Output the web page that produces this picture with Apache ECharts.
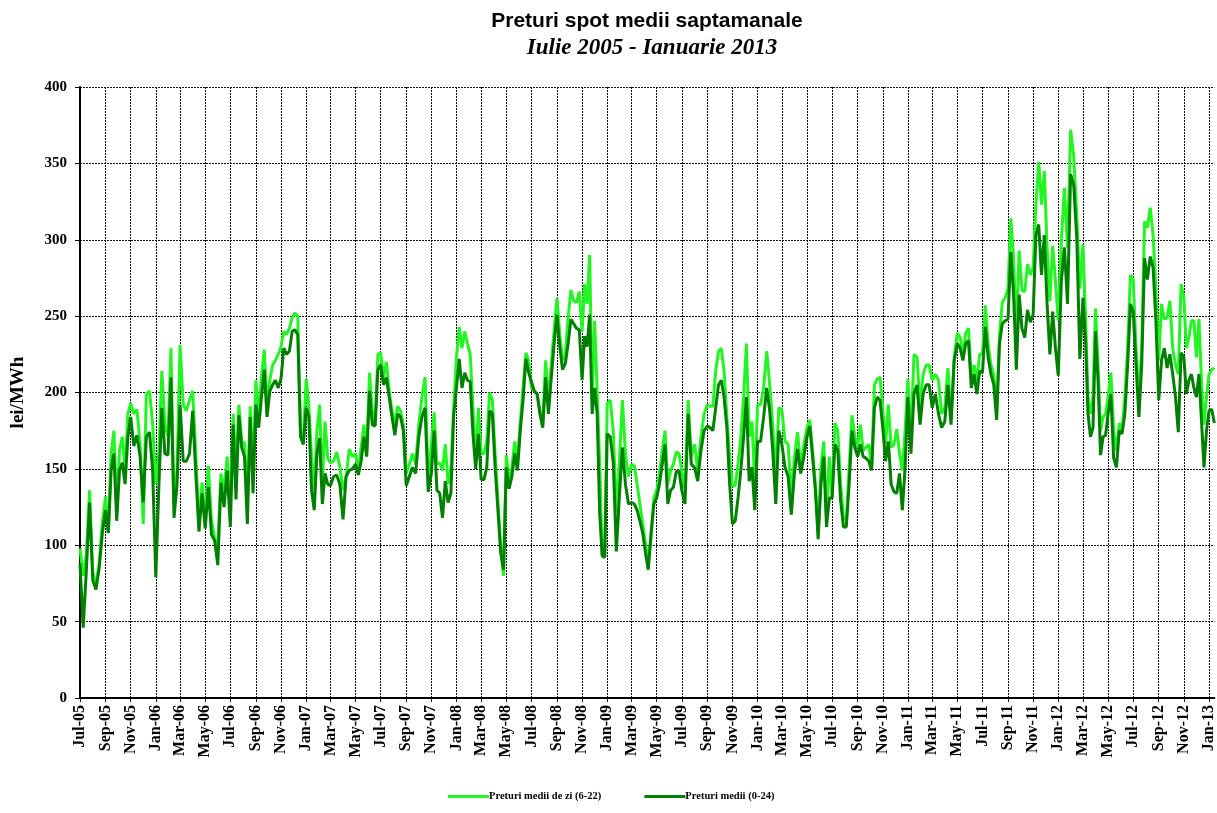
<!DOCTYPE html>
<html>
<head>
<meta charset="utf-8">
<script src="https://cdn.jsdelivr.net/npm/echarts@6/dist/echarts.min.js"></script>
<style>
html,body{margin:0;padding:0;background:#fff;}
#chart{width:1217px;height:813px;}
</style>
</head>
<body>
<div id="chart"></div>
<script>
// Tick labels of the x axis (every two months)
const xTickLabels = ['Jul-05','Sep-05','Nov-05',
 'Jan-06','Mar-06','May-06','Jul-06','Sep-06','Nov-06',
 'Jan-07','Mar-07','May-07','Jul-07','Sep-07','Nov-07',
 'Jan-08','Mar-08','May-08','Jul-08','Sep-08','Nov-08',
 'Jan-09','Mar-09','May-09','Jul-09','Sep-09','Nov-09',
 'Jan-10','Mar-10','May-10','Jul-10','Sep-10','Nov-10',
 'Jan-11','Mar-11','May-11','Jul-11','Sep-11','Nov-11',
 'Jan-12','Mar-12','May-12','Jul-12','Sep-12','Nov-12',
 'Jan-13'];
const lastWeekDate = '2013-01-14';
const yTicks = {min: 0, max: 400, step: 50};

// Weekly values, grouped by two-month period (one group per x tick)
const dayPrices = [ // Preturi medii de zi (6-22)
 [98,80,95,136,82,74,88,115],
 [132,108,160,175,123,162,171,149,186],
 [193,186,189,166,114,199,201,179],
 [140,160,214,179,171,229,127,150],
 [231,192,188,195,201,160,114,141],
 [116,152,116,105,99,147,136,158],
 [127,186,149,192,168,167,127,191,149],
 [208,184,210,228,192,208,218,221,225],
 [230,240,238,242,249,252,250,175,168],
 [209,192,158,136,175,192,140,181,157],
 [154,155,161,151,136,145,163,158],
 [160,149,164,179,162,213,188,179,225],
 [226,210,220,201,188,179,191,188,179],
 [147,153,160,153,179,197,210,142],
 [166,187,153,154,149,166,140,150,190],
 [223,243,229,240,232,225,190,155,190],
 [160,160,168,200,195,160,129,99,80],
 [159,142,151,168,155,181,203,226,221],
 [203,201,199,188,180,221,193,219,241],
 [262,238,221,225,249,267,260,259,266],
 [240,271,258,290,197,247,201,154,94,93],
 [193,195,175,121,154,195,160,145],
 [153,152,140,127,114,101,88,105,131],
 [136,147,162,175,140,149,153,161,160],
 [149,136,195,158,166,149,171,186],
 [192,191,191,214,227,229,214,184,158],
 [139,139,153,171,197,232,171,181,140],
 [192,192,203,227,205,179,145,190],
 [189,168,166,131,158,174,151,166],
 [177,182,162,140,108,151,168,118,158],
 [131,180,175,140,118,116,151,185,171],
 [164,179,162,164,166,151,205,209,210],
 [190,166,192,164,166,176,160,149,175],
 [209,168,225,223,190,212,218,218],
 [208,212,208,186,190,216,184,223],
 [239,236,225,239,242,210,218,208,225],
 [225,257,232,218,212,188,238,259,262],
 [268,314,288,238,293,267,266,284,277],
 [282,323,351,323,345,295,260,296,273],
 [247,299,334,295,372,355,316,268],
 [297,251,197,186,197,255,218,175,184,186],
 [197,213,175,162,180,175,197,229,277],
 [274,229,197,229,312,308,321,303,268],
 [221,258,248,249,260,229,218,212,271],
 [262,229,236,247,247,223,248,208,179,197],
 [212,215,216]
];
const allDayPrices = [ // Preturi medii (0-24)
 [88,46,84,128,77,71,85,108],
 [123,108,149,160,116,149,154,140,171],
 [184,165,172,158,128,171,174,149],
 [79,138,190,160,159,210,118,140],
 [192,155,155,160,188,147,109,134],
 [111,138,107,103,87,141,125,149],
 [112,179,130,185,164,158,114,184,134],
 [192,177,197,215,184,201,205,208,203],
 [209,229,225,227,240,241,238,171,166],
 [190,184,136,123,160,170,127,147,140],
 [139,145,146,140,117,145,149,150],
 [153,146,155,171,158,201,179,178,215],
 [218,205,210,197,184,172,186,184,175],
 [139,145,151,147,171,184,190,135],
 [147,175,136,134,118,142,128,134,185],
 [203,222,203,213,208,207,173,150,173],
 [143,143,151,188,186,151,123,95,84],
 [151,137,145,160,149,175,195,222,213],
 [207,201,199,186,177,210,186,210,232],
 [251,230,215,219,232,248,245,242,241],
 [208,237,230,251,186,203,186,121,93,92],
 [173,171,154,96,132,164,140,127],
 [128,127,123,116,108,95,84,108,127],
 [131,140,153,166,127,136,138,148,149],
 [136,127,186,153,151,142,162,175],
 [178,177,175,190,205,208,197,177,140],
 [114,116,131,149,171,197,142,151,123],
 [168,168,184,203,188,162,127,175],
 [166,151,145,120,147,163,147,158],
 [171,178,158,136,104,140,158,112,131],
 [131,166,162,129,112,112,140,175,164],
 [158,166,158,157,155,149,190,197,195],
 [177,155,168,140,135,134,147,123,151],
 [197,160,199,205,179,199,205,205],
 [190,199,186,177,181,205,179,221],
 [232,229,221,232,234,203,212,199,214],
 [213,243,223,212,205,182,232,245,247],
 [248,292,264,215,264,242,236,254,246],
 [251,303,310,277,303,258,225,253,229],
 [211,273,295,258,343,336,301,222],
 [262,235,186,171,177,240,208,159,171,172],
 [186,199,157,151,175,173,186,218,258],
 [253,218,184,218,288,274,289,282,247],
 [195,221,229,216,225,212,197,174,226],
 [223,199,208,212,203,197,212,182,151,175],
 [188,189,180]
];

const MONTHS = ['Jan','Feb','Mar','Apr','May','Jun','Jul','Aug','Sep','Oct','Nov','Dec'];
function labelToTime(lbl){
  const p = lbl.split('-');
  return Date.UTC(2000 + parseInt(p[1],10), MONTHS.indexOf(p[0]), 1);
}
const tickTimes = xTickLabels.map(labelToTime);
const lw = lastWeekDate.split('-').map(Number);
const xMin = tickTimes[0];
const xMax = Date.UTC(lw[0], lw[1]-1, lw[2]);

function buildSeries(periods){
  const out = [];
  periods.forEach(function(vals, k){
    const s = tickTimes[k];
    const isLast = (k === tickTimes.length - 1);
    const e = isLast ? xMax : tickTimes[k+1];
    const n = vals.length;
    vals.forEach(function(v, j){
      const f = isLast ? j/(n-1) : j/n;
      out.push([s + f*(e - s), v]);
    });
  });
  return out;
}

const serif = "'Liberation Serif','Times New Roman',serif";
const chart = echarts.init(document.getElementById('chart'), null, {renderer:'canvas'});
const dotted = {color:'#111', width:1, type:[2,1]};

chart.setOption({
  animation: false,
  backgroundColor: '#fff',
  title: [
    {text:'Preturi spot medii saptamanale', left:647, top:11, textAlign:'center', padding:0,
     textStyle:{fontFamily:"'Liberation Sans',Arial,sans-serif", fontWeight:'bold', fontSize:21, color:'#000'}},
    {text:'Iulie 2005 - Ianuarie 2013', left:652, top:37, textAlign:'center', padding:0,
     textStyle:{fontFamily:serif, fontWeight:'bold', fontStyle:'italic', fontSize:23, color:'#000'}}
  ],
  legend: {
    left: 448, top: 791, padding: 0, icon: 'rect', itemWidth: 41, itemHeight: 3, itemGap: 43,
    textStyle: {fontFamily: serif, fontWeight: 'bold', fontSize: 10.5, color: '#000', padding:[0,0,0,-5]},
    data: ['Preturi medii de zi (6-22)', 'Preturi medii (0-24)']
  },
  grid: {left: 80, right: 1, top: 87, bottom: 115, containLabel: false},
  xAxis: {
    type: 'value', min: xMin, max: xMax,
    axisLine: {show: true, onZero: false, lineStyle: {color: '#000', width: 2}},
    axisTick: {show: true, length: 4, customValues: tickTimes, lineStyle:{color:'#000'}},
    axisLabel: {
      customValues: tickTimes, rotate: 90, margin: 7,
      fontFamily: serif, fontWeight: 'bold', fontSize: 16, color: '#000',
      formatter: function(v){
        const i = tickTimes.indexOf(v);
        return i >= 0 ? xTickLabels[i] : '';
      }
    },
    splitLine: {show: true, lineStyle: dotted}
  },
  yAxis: {
    type: 'value', min: yTicks.min, max: yTicks.max, interval: yTicks.step,
    name: 'lei/MWh', nameLocation: 'middle', nameGap: 52, nameRotate: 90,
    nameTextStyle: {fontFamily: serif, fontWeight: 'bold', fontSize: 19, color: '#000'},
    axisLine: {show: true, lineStyle: {color: '#000', width: 2}},
    axisTick: {show: true, length: 5, lineStyle:{color:'#000'}},
    axisLabel: {fontFamily: serif, fontWeight: 'bold', fontSize: 15, color: '#000', margin: 13},
    splitLine: {show: true, lineStyle: dotted}
  },
  series: [
    {name: 'Preturi medii de zi (6-22)', type: 'line', data: buildSeries(dayPrices),
     symbol: 'none', showSymbol: false, color: '#22f522',
     lineStyle: {width: 3, color: '#22f522'}},
    {name: 'Preturi medii (0-24)', type: 'line', data: buildSeries(allDayPrices),
     symbol: 'none', showSymbol: false, color: '#008000',
     lineStyle: {width: 3, color: '#008000'}}
  ]
});
</script>
</body>
</html>
